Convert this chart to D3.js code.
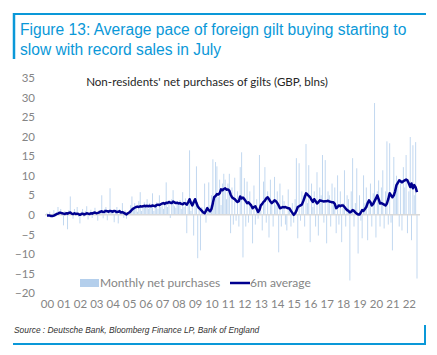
<!DOCTYPE html>
<html><head><meta charset="utf-8">
<script src="https://cdn.jsdelivr.net/npm/d3@7"></script>
<style>body{margin:0;background:#fff;}svg{display:block;}</style>
</head><body>
<svg id="c" width="437" height="355"></svg>
<script>
// Monthly net purchases, Jan 2000 - Jul 2022 (GBP bn)
const monthly = [
 0.5,-0.3,0.8,-0.5,0.3,1.2,-0.4,0.6,2.0,0.4,1.5,-0.2,
 -2.7,1.0,0.5,-3.7,1.2,4.7,0.3,-1.0,1.5,0.8,2.0,-0.5,
 -2.2,0.8,1.5,-0.6,1.0,2.2,-1.2,0.5,1.3,-0.8,0.9,1.8,
 0.4,-1.5,1.2,0.8,5.0,-0.9,1.5,2.0,-1.4,0.7,6.8,1.0,
 1.2,-1.9,0.8,2.0,-2.2,1.5,0.5,3.0,-0.8,1.2,-1.0,0.3,
 1.0,2.5,4.7,1.5,3.0,2.2,0.8,3.5,5.8,1.0,2.5,3.2,
 2.0,4.0,1.5,3.0,2.2,5.5,1.0,2.8,3.2,1.5,5.0,2.0,
 3.0,1.5,2.5,8.3,2.0,3.5,-0.8,4.0,6.3,2.2,1.8,3.0,
 2.5,3.8,1.5,5.8,2.0,4.2,-4.7,3.0,16.5,1.0,2.2,-5.3,
 3.5,12.4,-11.1,1.5,-9.1,2.0,0.5,8.0,-2.0,1.2,8.3,2.5,
 5.0,14.2,3.0,13.5,12.4,4.5,9.0,2.5,8.0,10.5,9.0,4.0,
 8.0,10.5,-4.7,7.0,-2.5,9.5,-1.5,6.0,-3.0,12.2,16.0,-10.9,
 9.4,-3.0,8.5,-2.0,6.0,1.5,-7.3,7.5,-2.5,4.0,-1.0,15.3,
 1.0,-4.0,8.5,12.2,-2.0,6.0,-5.8,9.0,3.0,-3.0,9.7,2.5,
 6.0,-9.6,8.0,-3.0,5.0,3.5,-2.5,-4.0,6.5,2.0,-3.0,3.0,
 -2.0,4.0,14.5,-6.0,13.2,-1.5,6.0,5.0,-3.0,18.1,3.0,12.7,
 -7.0,8.0,2.0,6.0,-3.0,10.9,-5.3,7.0,5.0,15.3,-2.0,14.0,
 -7.3,6.0,5.0,-3.0,8.0,2.5,7.0,-4.7,10.1,-2.5,6.0,-7.0,
 3.0,11.4,-3.0,5.0,4.0,-16.8,6.0,14.5,-3.0,3.0,11.9,-9.9,
 5.0,-1.5,-6.0,10.1,3.0,7.0,-6.5,4.0,8.0,-3.0,5.5,28.6,
 -5.8,6.0,8.8,-3.0,7.0,11.4,-3.5,6.0,18.8,-2.5,18.3,-2.0,
 -9.1,14.8,6.0,10.0,8.0,-3.0,9.0,-4.0,12.2,7.0,15.3,-4.7,
 6.0,19.9,-6.5,17.8,5.0,18.6,-16.3
];
// 6-month average, Jan 2000 - Jul 2022
const avg6m = [
 -0.2,-0.2,-0.2,-0.3,-0.3,-0.2,0,0.2,0.3,0.5,0.5,0.4,
 0.3,0.2,0.4,0.3,0.5,0.6,0.3,0.2,0.4,0.2,0.3,0.2,
 0,0.2,0.3,0.1,0.2,0.4,0.3,0.2,0.4,0.3,0.5,0.6,
 0.4,0.5,0.6,0.8,0.9,0.7,0.8,1.0,0.9,0.8,1.0,0.9,
 0.8,1.0,0.9,0.7,0.8,0.9,0.6,0.7,0.5,0.3,0.1,0.4,
 0.6,0.9,1.3,1.6,1.8,2.0,2.1,2.0,2.2,2.1,2.2,2.3,
 2.2,2.3,2.2,2.3,2.2,2.4,2.3,2.2,2.5,2.6,2.5,2.7,
 2.9,3.0,2.8,3.1,3.0,3.3,3.1,3.0,3.4,3.2,3.0,3.1,
 2.9,3.0,2.8,2.7,3.0,2.9,2.6,3.2,4.0,3.1,2.4,3.2,
 4.0,3.0,2.2,1.7,1.4,1.0,0.6,0.4,1.0,1.7,1.2,0.9,
 1.5,3.0,4.5,4.8,5.3,5.2,5.5,6.5,6.3,6.6,6.8,6.4,
 6.5,6.2,5.2,4.5,4.2,4.0,3.6,3.3,3.5,4.7,4.2,4.4,
 4.0,3.5,3.0,3.2,2.8,2.4,1.7,2.0,2.2,1.5,0.7,1.2,
 2.4,2.8,3.3,3.6,4.2,4.5,4.0,3.4,3.0,3.3,3.7,3.5,
 3.0,2.4,1.7,1.8,2.0,1.9,2.0,1.8,1.7,1.6,1.0,0.5,
 0.0,0.4,1.0,2.0,2.2,2.4,2.6,3.5,4.5,5.5,5.2,4.8,
 4.5,3.8,3.3,4.0,3.5,2.9,3.2,3.7,3.6,3.5,3.4,3.5,
 3.5,3.6,3.4,3.3,3.2,3.2,2.8,1.7,2.0,2.4,2.2,2.4,
 2.4,2.0,1.6,1.2,1.0,0.6,0.8,1.2,1.0,0.6,0.3,0.1,
 0.1,0.6,1.2,1.0,1.5,2.0,3.0,3.7,3.2,2.4,2.8,3.5,
 4.2,5.0,4.0,2.9,3.0,2.8,2.6,2.4,2.9,4.0,5.5,5.0,
 4.5,5.0,6.0,7.6,8.2,8.8,8.6,8.3,8.6,8.8,9.0,8.8,
 8.0,7.1,8.0,6.8,7.6,7.0,5.8
];
const yTicks = [-20,-15,-10,-5,0,5,10,15,20,25,30,35];
const yearLabels = ["00","01","02","03","04","05","06","07","08","09","10","11","12","13","14","15","16","17","18","19","20","21","22"];

const title1 = "Figure 13: Average pace of foreign gilt buying starting to";
const title2 = "slow with record sales in July";
const subtitle = "Non-residents' net purchases of gilts (GBP, blns)";
const source = "Source : Deutsche Bank, Bloomberg Finance LP, Bank of England";

const svg = d3.select("#c");
const blue = "#0a98d8";
const font = "'Liberation Sans', Arial, sans-serif";
const dates = monthly.map((d,i)=>new Date(2000, i, 1));

const x = d3.scaleTime().domain([new Date(2000,0,1), new Date(2022,6,1)]).range([47, 417]);
const y = d3.scaleLinear().domain([-20,35]).range([293,78]);

// frame
svg.append("line").attr("x1",13).attr("x2",426).attr("y1",14).attr("y2",14).attr("stroke",blue).attr("stroke-width",2);
svg.append("line").attr("x1",14).attr("x2",14).attr("y1",13).attr("y2",59).attr("stroke",blue).attr("stroke-width",2.5);
svg.append("line").attr("x1",13).attr("x2",426).attr("y1",344).attr("y2",344).attr("stroke",blue).attr("stroke-width",2);
svg.append("line").attr("x1",425).attr("x2",425).attr("y1",325).attr("y2",345).attr("stroke",blue).attr("stroke-width",2);

// title
svg.append("text").attr("x",20).attr("y",35).attr("fill",blue).style("font-family",font).style("font-size","15.6px").text(title1);
svg.append("text").attr("x",20).attr("y",55).attr("fill",blue).style("font-family",font).style("font-size","15.6px").text(title2);

// subtitle
svg.append("text").attr("x",207).attr("y",86).attr("text-anchor","middle").attr("fill","#262626").style("font-family","Lato, sans-serif").style("font-size","11.6px").text(subtitle);

// bars
svg.append("g").selectAll("rect").data(monthly).join("rect")
  .attr("x",(d,i)=>x(dates[i])-0.5)
  .attr("width",1)
  .attr("y",d=>y(Math.max(0,d)))
  .attr("height",d=>Math.abs(y(d)-y(0)))
  .attr("fill","#c2d8f0");

// zero line
svg.append("line").attr("x1",45).attr("x2",420).attr("y1",y(0)).attr("y2",y(0)).attr("stroke","#d9d9d9").attr("stroke-width",1.5);

// line
svg.append("path").datum(avg6m)
  .attr("d", d3.line().x((d,i)=>x(dates[i])).y(d=>y(d)))
  .attr("fill","none").attr("stroke","#00008f").attr("stroke-width",2.5).attr("stroke-linejoin","round");

// y axis
const yAxis = d3.axisLeft(y).tickValues(yTicks).tickSize(0).tickPadding(0);
const gy = svg.append("g").attr("transform","translate(35,0)").call(yAxis);
gy.select(".domain").remove();
gy.selectAll("text").attr("fill","#858585").style("font-family","Lato, sans-serif").style("font-size","11.5px");

// x axis
const yearDates = yearLabels.map((l,i)=>new Date(2000+i,0,1));
const xAxis = d3.axisBottom(x).tickValues(yearDates).tickFormat((d,i)=>yearLabels[i]).tickSize(0).tickPadding(0);
const gx = svg.append("g").attr("transform","translate(0,300)").call(xAxis);
gx.select(".domain").remove();
gx.selectAll("text").attr("fill","#858585").style("font-family","Lato, sans-serif").style("font-size","11.5px");

// legend
svg.append("rect").attr("x",80).attr("y",279).attr("width",19).attr("height",8).attr("fill","#b4cfec");
svg.append("text").attr("x",100).attr("y",287).attr("fill","#858585").style("font-family","Lato, sans-serif").style("font-size","12px").text("Monthly net purchases");
svg.append("line").attr("x1",230).attr("x2",250).attr("y1",283).attr("y2",283).attr("stroke","#00008f").attr("stroke-width",2.5);
svg.append("text").attr("x",250).attr("y",287).attr("fill","#858585").style("font-family","Lato, sans-serif").style("font-size","12px").text("6m average");

// source
svg.append("text").attr("x",14).attr("y",333).attr("fill","#333").style("font-family",font).style("font-style","italic").style("font-size","8.4px").text(source);
</script>
</body></html>
